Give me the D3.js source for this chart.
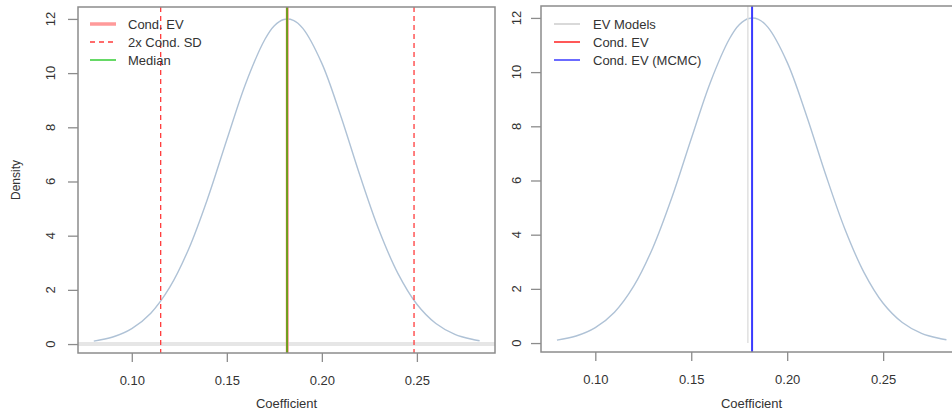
<!DOCTYPE html>
<html><head><meta charset="utf-8">
<script src="https://cdn.jsdelivr.net/npm/d3@7"></script>
<style>body{margin:0;background:#fff}svg{display:block}text{font-family:"Liberation Sans",Arial,sans-serif;fill:#333}</style>
</head><body>
<svg id="c" width="952" height="416"></svg>
<script>
// ---- data ----
const coefGrid = [0.080,0.090,0.100,0.110,0.120,0.130,0.140,0.150,0.160,0.170,0.175,0.180,0.185,0.190,0.200,0.210,0.220,0.230,0.240,0.250,0.260,0.270,0.280,0.283];
const densityVals = [0.11,0.26,0.57,1.14,2.10,3.52,5.39,7.54,9.63,11.24,11.75,11.98,11.95,11.65,10.36,8.41,6.23,4.22,2.61,1.47,0.76,0.36,0.16,0.12];
const condEV = 0.1818;
const sdLines = [0.1152, 0.2485];
const medianVal = 0.1817;
const evModelVal = 0.1795;
const mcmcVal = 0.1817;
const xTicks = [0.10, 0.15, 0.20, 0.25];
const yTicks = [0, 2, 4, 6, 8, 10, 12];
const legendLeft = ["Cond. EV", "2x Cond. SD", "Median"];
const legendRight = ["EV Models", "Cond. EV", "Cond. EV (MCMC)"];

const svg = d3.select("#c");
const pts = coefGrid.map((c,i)=>[c, densityVals[i]]);
const xDom = [0.0717, 0.2911];
const yDom = [-0.33, 12.44];
const frameCol = "#8c8c8c";

function panel(left, right, top, bottom, yLabX) {
  const g = svg.append("g");
  const x = d3.scaleLinear().domain(xDom).range([left, right]);
  const y = d3.scaleLinear().domain(yDom).range([bottom, top]);
  return {g, x, y, left, right, top, bottom, yLabX};
}

function axes(p, showYTitle) {
  const {g, x, y} = p;
  const xa = g.append("g").attr("transform", `translate(0,${p.bottom})`)
    .call(d3.axisBottom(x).tickValues(xTicks).tickFormat(d3.format(".2f")).tickSize(9).tickPadding(14));
  xa.select(".domain").remove();
  xa.selectAll("line").attr("stroke", frameCol).attr("stroke-width", 1.3);
  xa.selectAll("text").attr("font-size", 13).attr("fill", "#333");
  const ya = g.append("g").attr("transform", `translate(${p.left},0)`)
    .call(d3.axisLeft(y).tickValues(yTicks).tickSize(10));
  ya.select(".domain").remove();
  ya.selectAll("line").attr("stroke", frameCol).attr("stroke-width", 1.3);
  ya.selectAll("text").remove();
  g.selectAll(".ylab").data(yTicks).enter().append("text")
    .attr("transform", d => `translate(${p.yLabX},${y(d)}) rotate(-90)`)
    .attr("text-anchor", "middle").attr("dy", "0.35em").attr("font-size", 13).text(d => d);
  g.append("text").attr("x", (p.left + p.right) / 2).attr("y", 408)
    .attr("text-anchor", "middle").attr("font-size", 13).text("Coefficient");
  if (showYTitle) {
    g.append("text").attr("transform", `translate(20,${(p.top + p.bottom) / 2}) rotate(-90)`)
      .attr("text-anchor", "middle").attr("font-size", 12).text("Density");
  }
}

function curve(p) {
  const line = d3.line().x(d => p.x(d[0])).y(d => p.y(d[1])).curve(d3.curveCatmullRom);
  p.g.append("path").datum(pts).attr("d", line).attr("fill", "none")
    .attr("stroke", "#afc2d6").attr("stroke-width", 1.4);
}

function frame(p) {
  p.g.append("rect").attr("x", p.left).attr("y", p.top)
    .attr("width", p.right - p.left).attr("height", p.bottom - p.top)
    .attr("fill", "none").attr("stroke", frameCol).attr("stroke-width", 1.5);
}

function legend(p, labels, styles, lx0, lx1, tx) {
  labels.forEach((lab, i) => {
    const yy = 24 + i * 18;
    const s = styles[i];
    p.g.append("line").attr("x1", lx0).attr("x2", lx1).attr("y1", yy).attr("y2", yy)
      .attr("stroke", s.c).attr("stroke-width", s.w).attr("stroke-dasharray", s.d || null);
    p.g.append("text").attr("x", tx).attr("y", yy).attr("dy", "0.35em")
      .attr("font-size", 13).text(lab);
  });
}

// ---- left panel ----
const L = panel(78, 495, 7, 353, 50);
L.g.append("line").attr("x1", L.left).attr("x2", L.right).attr("y1", L.y(0)).attr("y2", L.y(0))
  .attr("stroke", "#e6e6e6").attr("stroke-width", 4);
curve(L);
sdLines.forEach(v => {
  L.g.append("line").attr("x1", L.x(v)).attr("x2", L.x(v)).attr("y1", L.top).attr("y2", L.bottom)
    .attr("stroke", "#ff3b3b").attr("stroke-width", 1.3).attr("stroke-dasharray", "5,4");
});
L.g.append("line").attr("x1", L.x(condEV)).attr("x2", L.x(condEV)).attr("y1", L.top).attr("y2", L.bottom)
  .attr("stroke", "#ff9a9a").attr("stroke-width", 3);
L.g.append("line").attr("x1", L.x(medianVal)).attr("x2", L.x(medianVal)).attr("y1", L.top).attr("y2", L.bottom)
  .attr("stroke", "#6c9f1c").attr("stroke-width", 2);
frame(L);
axes(L, true);
legend(L, legendLeft, [{c:"#ff9a9a", w:3.5}, {c:"#ff3b3b", w:1.3, d:"5,4"}, {c:"#33cc33", w:1.5}], 90, 116, 128);

// ---- right panel ----
const R = panel(541, 962, 6, 352, 516);
curve(R);
R.g.append("line").attr("x1", R.x(evModelVal)).attr("x2", R.x(evModelVal)).attr("y1", R.top).attr("y2", R.y(0))
  .attr("stroke", "#e0e0e0").attr("stroke-width", 1.5);
R.g.append("line").attr("x1", R.x(mcmcVal)).attr("x2", R.x(mcmcVal)).attr("y1", R.top).attr("y2", R.bottom)
  .attr("stroke", "#3a3aff").attr("stroke-width", 2);
frame(R);
axes(R, false);
legend(R, legendRight, [{c:"#cccccc", w:1.5}, {c:"#ff2020", w:1.5}, {c:"#3a3aff", w:1.5}], 554, 580, 593);
</script>
</body></html>
